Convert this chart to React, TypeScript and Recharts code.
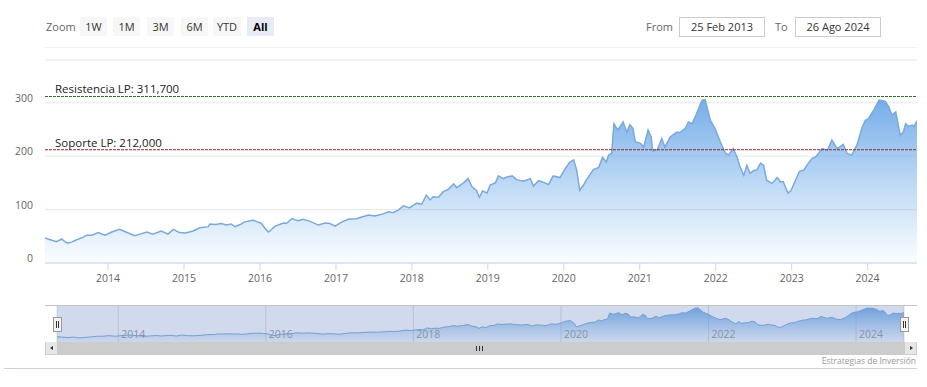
import React from 'react';
import { AreaChart, Area, XAxis, YAxis, CartesianGrid, ReferenceLine, ReferenceArea } from 'recharts';

const years = [
  2013.17, 2013.23, 2013.32, 2013.39, 2013.43, 2013.47, 2013.52, 2013.58, 2013.67, 2013.72, 2013.79, 2013.87, 2013.96,
  2014.05, 2014.15, 2014.25, 2014.35, 2014.42, 2014.51, 2014.59, 2014.70, 2014.79, 2014.86, 2014.94,
  2015.02, 2015.12, 2015.21, 2015.32, 2015.34, 2015.42, 2015.49, 2015.56, 2015.62, 2015.67, 2015.74, 2015.80, 2015.91, 2015.97,
  2016.02, 2016.06, 2016.11, 2016.13, 2016.20, 2016.31, 2016.35, 2016.42, 2016.50, 2016.57, 2016.66, 2016.77, 2016.86, 2016.92, 2016.99,
  2017.08, 2017.16, 2017.27, 2017.34, 2017.43, 2017.51, 2017.62, 2017.69, 2017.75, 2017.82, 2017.89, 2017.97,
  2018.06, 2018.13, 2018.19, 2018.24, 2018.28, 2018.35, 2018.41, 2018.48, 2018.55, 2018.59, 2018.68, 2018.74, 2018.79, 2018.85, 2018.89, 2018.93, 2018.99,
  2019.03, 2019.10, 2019.14, 2019.20, 2019.25, 2019.32, 2019.38, 2019.47, 2019.56, 2019.60, 2019.67, 2019.75, 2019.80, 2019.86, 2019.95,
  2020.02, 2020.08, 2020.13, 2020.17, 2020.21, 2020.26, 2020.30, 2020.39, 2020.46, 2020.51, 2020.56, 2020.59, 2020.63, 2020.66, 2020.71, 2020.74, 2020.78, 2020.83, 2020.87, 2020.91, 2020.94,
  2021.01, 2021.05, 2021.11, 2021.15, 2021.17, 2021.23, 2021.29, 2021.33, 2021.40, 2021.49, 2021.53, 2021.60, 2021.64, 2021.69, 2021.74, 2021.82, 2021.86, 2021.88, 2021.93, 2021.99,
  2022.06, 2022.13, 2022.17, 2022.23, 2022.28, 2022.32, 2022.37, 2022.41, 2022.45, 2022.50, 2022.54, 2022.59, 2022.63, 2022.67, 2022.74, 2022.78, 2022.81, 2022.85, 2022.89, 2022.95, 2022.99,
  2023.05, 2023.10, 2023.16, 2023.21, 2023.27, 2023.32, 2023.40, 2023.47, 2023.53, 2023.60, 2023.68, 2023.73, 2023.79, 2023.86, 2023.93, 2023.97,
  2024.01, 2024.08, 2024.15, 2024.23, 2024.28, 2024.32, 2024.37, 2024.43, 2024.47, 2024.50, 2024.54, 2024.59, 2024.61, 2024.65,
];

const prices = [
  47, 44, 40, 45, 40, 37, 39, 43, 48, 52, 52, 57, 52,
  58, 63, 57, 51, 54, 58, 54, 60, 54, 63, 57,
  56, 60, 66, 68, 73, 72, 74, 71, 73, 68, 72, 77, 80, 77,
  74, 66, 58, 60, 69, 75, 74, 83, 79, 82, 78, 71, 75, 74, 69,
  77, 82, 83, 86, 90, 88, 92, 96, 94, 99, 107, 103,
  112, 110, 127, 118, 124, 123, 133, 138, 148, 141, 150, 158, 143, 136, 123, 135, 131,
  146, 150, 163, 158, 161, 163, 156, 153, 158, 144, 154, 150, 147, 163, 160,
  177, 189, 193, 174, 136, 146, 156, 175, 179, 198, 189, 202, 205, 261, 249, 255, 264, 245, 259, 252, 227,
  224, 217, 249, 236, 210, 212, 233, 217, 236, 245, 244, 252, 264, 261, 277, 305, 306, 295, 267, 252,
  227, 205, 202, 214, 199, 180, 164, 183, 168, 173, 174, 187, 183, 155, 149, 155, 160, 152, 152, 131, 135,
  155, 171, 174, 185, 196, 199, 214, 211, 230, 214, 222, 205, 202, 221, 255, 267,
  270, 286, 305, 303, 292, 277, 283, 239, 245, 261, 256, 258, 255, 266,
];

const yearTicks = [2014, 2015, 2016, 2017, 2018, 2019, 2020, 2021, 2022, 2023, 2024];
const navigatorTicks = [2014, 2016, 2018, 2020, 2022, 2024];
const valueTicks = [0, 100, 200, 300];
const resistanceValue = 311.7;
const supportValue = 212;
const resistanceLabel = 'Resistencia LP: 311,700';
const supportLabel = 'Soporte LP: 212,000';
const zoomButtons = ['1W', '1M', '3M', '6M', 'YTD', 'All'];
const fromDate = '25 Feb 2013';
const toDate = '26 Ago 2024';
const creditText = 'Estrategias de Inversión';

const data = years.map((t, i) => ({ t, v: prices[i] }));
const xDomain: [number, number] = [years[0], years[years.length - 1]];

const FONT = "'Open Sans', sans-serif";

const YTick = (props: any) => {
  const { y, payload } = props;
  return (
    <text x={33} y={y - 1} textAnchor="end" fill="#666" fontSize={10.5} fontFamily={FONT}>
      {payload.value}
    </text>
  );
};

const XTick = (props: any) => {
  const { x, y, payload } = props;
  return (
    <text x={x} y={y + 10} textAnchor="middle" fill="#666" fontSize={10.5} fontFamily={FONT}>
      {payload.value}
    </text>
  );
};

const NavTick = (props: any) => {
  const { x, y, payload } = props;
  return (
    <text x={x + 3} y={y - 4} textAnchor="start" fill="#8a93a6" fontSize={10.5} fontFamily={FONT}>
      {payload.value}
    </text>
  );
};

const plotLabel = (text: string) => (props: any) => {
  const vb = props.viewBox || {};
  return (
    <text x={(vb.x || 0) + 10} y={(vb.y || 0) - 3} fill="#222" fontSize={11.5} fontFamily={FONT}>
      {text}
    </text>
  );
};

const btnBase: React.CSSProperties = {
  position: 'absolute',
  top: 17,
  width: 27,
  height: 19,
  background: '#f7f7f7',
  color: '#333',
  fontSize: 11,
  lineHeight: '19px',
  textAlign: 'center',
};

const inputBox: React.CSSProperties = {
  position: 'absolute',
  top: 17,
  height: 18,
  width: 84,
  border: '1px solid #ccc',
  color: '#333',
  fontSize: 11,
  lineHeight: '18px',
  textAlign: 'center',
  background: '#fff',
};

const Handle = ({ left }: { left: number }) => (
  <div
    style={{
      position: 'absolute',
      left,
      top: 317,
      width: 7,
      height: 13,
      background: '#f2f2f2',
      border: '1px solid #999',
    }}
  >
    <div style={{ position: 'absolute', left: 2, top: 3, width: 1, height: 7, background: '#333' }} />
    <div style={{ position: 'absolute', left: 4, top: 3, width: 1, height: 7, background: '#333' }} />
  </div>
);

export default function App() {
  const btnLefts = [80, 113, 147, 181, 213, 247];
  return (
    <div
      style={{
        position: 'absolute',
        left: 0,
        top: 0,
        width: 927,
        height: 387,
        background: '#fff',
        fontFamily: FONT,
        overflow: 'hidden',
      }}
    >
      {/* range selector */}
      <div style={{ position: 'absolute', left: 46, top: 17, fontSize: 11, lineHeight: '19px', color: '#666' }}>Zoom</div>
      {zoomButtons.map((b, i) => (
        <div
          key={b}
          style={{
            ...btnBase,
            left: btnLefts[i],
            width: b === 'YTD' ? 28 : 27,
            background: b === 'All' ? '#e6ebf5' : '#f7f7f7',
            fontWeight: b === 'All' ? 700 : 400,
            color: b === 'All' ? '#000' : '#333',
          }}
        >
          {b}
        </div>
      ))}
      <div style={{ position: 'absolute', left: 646, top: 17, fontSize: 11, lineHeight: '19px', color: '#666' }}>From</div>
      <div style={{ ...inputBox, left: 679 }}>{fromDate}</div>
      <div style={{ position: 'absolute', left: 775, top: 17, fontSize: 11, lineHeight: '19px', color: '#666' }}>To</div>
      <div style={{ ...inputBox, left: 795 }}>{toDate}</div>
      <div style={{ position: 'absolute', left: 45, top: 47, width: 872, height: 1, background: '#f0f0f0' }} />

      {/* main chart */}
      <div style={{ position: 'absolute', left: 0, top: 0 }}>
        <AreaChart width={927} height={300} data={data} margin={{ top: 60, right: 10, bottom: 0, left: 0 }}>
          <defs>
            <linearGradient id="mainGrad" x1="0" y1="0" x2="0" y2="1">
              <stop offset="0%" stopColor="#6ea9e8" stopOpacity={0.95} />
              <stop offset="100%" stopColor="#7cb5ec" stopOpacity={0.03} />
            </linearGradient>
          </defs>
          <CartesianGrid vertical={false} stroke="#e6e6e6" />
          <XAxis
            dataKey="t"
            type="number"
            domain={xDomain}
            ticks={yearTicks}
            height={37}
            stroke="#ccd6eb"
            tickSize={7}
            tickMargin={2}
            tick={(p: any) => <XTick {...p} />}
            interval={0}
            allowDataOverflow
          />
          <YAxis
            type="number"
            domain={[0, 380]}
            ticks={valueTicks}
            width={45}
            axisLine={false}
            tickLine={false}
            tick={(p: any) => <YTick {...p} />}
            interval={0}
          />
          <Area
            type="linear"
            dataKey="v"
            stroke="#7aa9dd"
            strokeWidth={1.5}
            fill="url(#mainGrad)"
            fillOpacity={1}
            dot={false}
            activeDot={false}
            isAnimationActive={false}
          />
          <ReferenceLine
            y={resistanceValue}
            stroke="#2f6e2f"
            strokeDasharray="3 1"
            label={plotLabel(resistanceLabel)}
          />
          <ReferenceLine
            y={supportValue}
            stroke="#8b2a2a"
            strokeDasharray="3 1"
            label={plotLabel(supportLabel)}
          />
        </AreaChart>
      </div>

      {/* navigator */}
      <div style={{ position: 'absolute', left: 45, top: 305, width: 872, height: 1, background: '#c4c4c4' }} />
      <div style={{ position: 'absolute', left: 0, top: 306 }}>
        <AreaChart width={927} height={49} data={data} margin={{ top: 0, right: 23, bottom: 0, left: 57 }}>
          <defs>
            <linearGradient id="navGrad" x1="0" y1="0" x2="0" y2="1">
              <stop offset="0%" stopColor="#6ea9e8" stopOpacity={0.95} />
              <stop offset="100%" stopColor="#7cb5ec" stopOpacity={0.05} />
            </linearGradient>
          </defs>
          <CartesianGrid horizontal={false} stroke="#dcdcdc" />
          <XAxis
            dataKey="t"
            type="number"
            domain={xDomain}
            ticks={navigatorTicks}
            height={13}
            axisLine={false}
            tickLine={false}
            tickSize={0}
            tickMargin={0}
            tick={(p: any) => <NavTick {...p} />}
            interval={0}
          />
          <YAxis hide type="number" domain={[0, 324]} />
          <Area
            type="linear"
            dataKey="v"
            stroke="#7aa9dd"
            strokeWidth={1}
            fill="url(#navGrad)"
            fillOpacity={1}
            dot={false}
            activeDot={false}
            isAnimationActive={false}
          />
          <ReferenceArea x1={xDomain[0]} x2={xDomain[1]} fill="rgb(102,133,194)" fillOpacity={0.3} stroke="none" />
        </AreaChart>
      </div>
      <Handle left={53} />
      <Handle left={900} />

      {/* scrollbar */}
      <div style={{ position: 'absolute', left: 45, top: 342, width: 872, height: 13, background: '#f2f2f2' }} />
      <div style={{ position: 'absolute', left: 57, top: 342, width: 847, height: 13, background: '#cccccc' }} />
      <div style={{ position: 'absolute', left: 45, top: 342, width: 11, height: 12, background: '#e6e6e6', border: '1px solid #cccccc', borderTop: 'none' }}>
        <div style={{ position: 'absolute', left: 4, top: 4, width: 0, height: 0, borderTop: '2.5px solid transparent', borderBottom: '2.5px solid transparent', borderRight: '3px solid #333' }} />
      </div>
      <div style={{ position: 'absolute', left: 904, top: 342, width: 11, height: 12, background: '#e6e6e6', border: '1px solid #cccccc', borderTop: 'none' }}>
        <div style={{ position: 'absolute', left: 5, top: 4, width: 0, height: 0, borderTop: '2.5px solid transparent', borderBottom: '2.5px solid transparent', borderLeft: '3px solid #333' }} />
      </div>
      {[476, 479, 482].map((l) => (
        <div key={l} style={{ position: 'absolute', left: l, top: 346, width: 1, height: 5, background: '#333' }} />
      ))}

      {/* credits */}
      <div style={{ position: 'absolute', right: 11, top: 355, fontSize: 8.5, lineHeight: '12px', color: '#999' }}>{creditText}</div>
      <div style={{ position: 'absolute', left: 4, top: 368, width: 913, height: 1, background: '#cfd0da' }} />
    </div>
  );
}
